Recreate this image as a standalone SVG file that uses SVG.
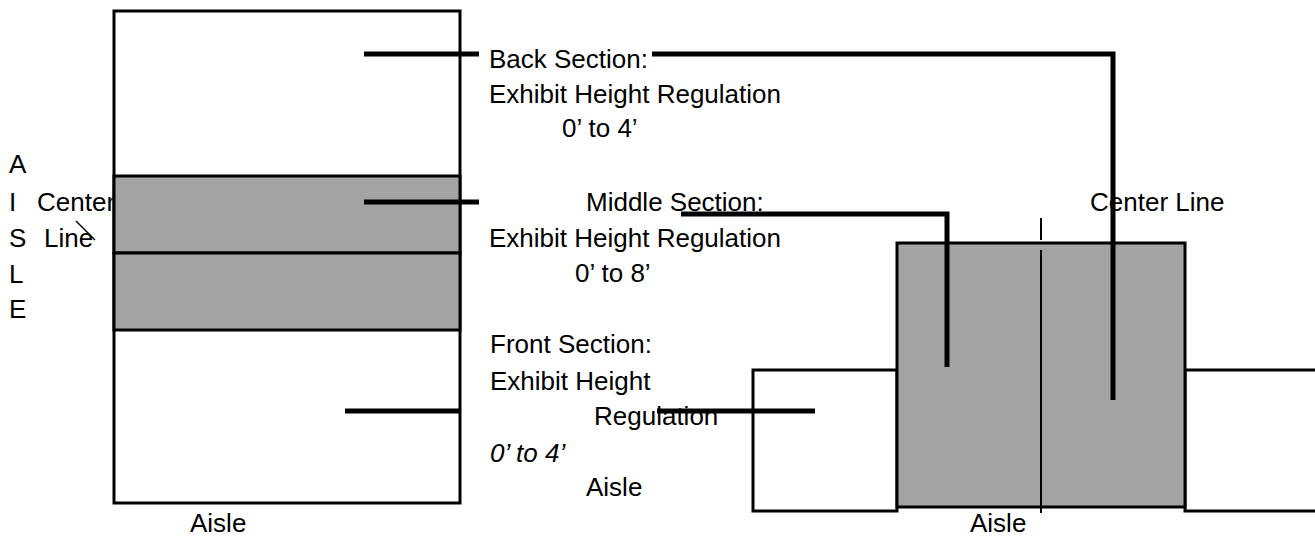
<svg xmlns="http://www.w3.org/2000/svg" width="1315" height="536" viewBox="0 0 1315 536">
<style>
text{font-family:"Liberation Sans",Arial,sans-serif;font-size:26px;fill:#000}
.it{font-style:italic}
.box{stroke:#000;stroke-width:3;fill:#fff}
.gray{fill:#a3a3a3}
.conn{stroke:#000;stroke-width:5;fill:none}
.thin{stroke:#000;stroke-width:2;fill:none}
</style>
<rect width="1315" height="536" fill="#fff"/>
<g id="labels">
<text x="9" y="173">A</text>
<text x="9" y="211">I</text>
<text x="9" y="247">S</text>
<text x="9" y="283">L</text>
<text x="9" y="318">E</text>
<text x="37" y="211">Center</text>
<text x="44" y="247">Line</text>
<text x="489" y="68">Back Section:</text>
<text x="489" y="103">Exhibit Height Regulation</text>
<text x="562" y="137">0’ to 4’</text>
<text x="586" y="211">Middle Section:</text>
<text x="489" y="247">Exhibit Height Regulation</text>
<text x="575" y="282">0’ to 8’</text>
<text x="490" y="353">Front Section:</text>
<text x="490" y="390">Exhibit Height</text>
<text x="594" y="425">Regulation</text>
<text class="it" x="490" y="462">0’ to 4’</text>
<text x="586" y="496">Aisle</text>
<text x="190" y="532">Aisle</text>
<text x="970" y="532">Aisle</text>
<text x="1090" y="211">Center Line</text>
</g>
<g id="left-booth">
<rect class="box" x="114" y="11" width="346" height="492"/>
<rect class="box gray" x="114" y="176" width="346" height="77"/>
<rect class="box gray" x="114" y="253" width="346" height="77"/>
<line class="thin" style="stroke-width:1.5" x1="76" y1="221" x2="95" y2="240"/>
</g>
<g id="right-booth">
<rect class="box" x="753" y="370" width="144" height="141"/>
<rect class="box" x="1185" y="370" width="140" height="141"/>
<rect class="box gray" x="897" y="243" width="288" height="264"/>
<line class="thin" x1="1041" y1="218" x2="1041" y2="240"/>
<line class="thin" x1="1041" y1="250" x2="1041" y2="513"/>
</g>
<g id="connectors">
<line class="conn" x1="364" y1="54" x2="479" y2="54"/>
<line class="conn" x1="364" y1="202" x2="479" y2="202"/>
<line class="conn" x1="345" y1="411" x2="460" y2="411"/>
<polyline class="conn" points="652,54 1113,54 1113,400"/>
<polyline class="conn" points="681,214 947,214 947,367"/>
<line class="conn" x1="657" y1="411" x2="815" y2="411"/>
</g>
</svg>
